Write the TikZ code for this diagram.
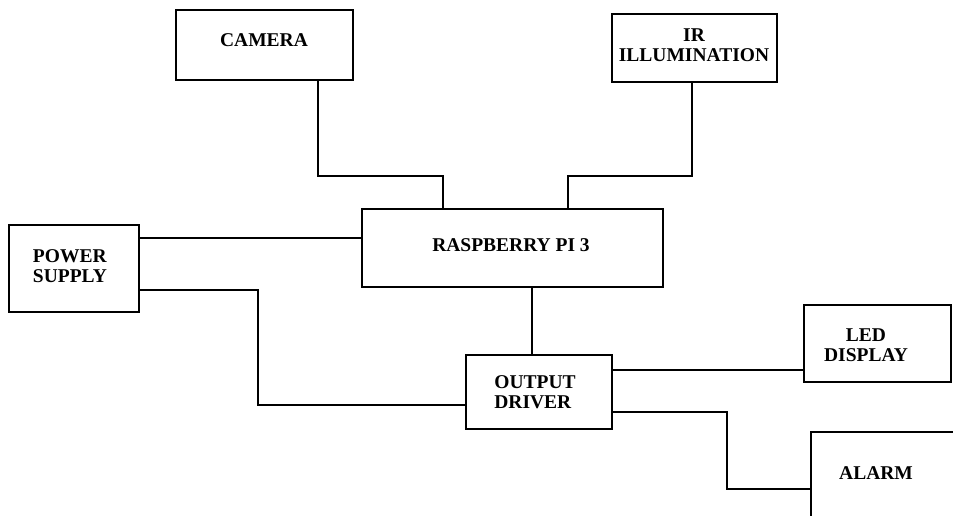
\documentclass[tikz,border=0pt]{standalone}
\usepackage{fontspec}
\setmainfont{Liberation Serif}
\begin{document}
\begin{tikzpicture}[x=1pt,y=-1pt,
  blk/.style={draw=black,line width=2.8pt,rectangle,inner sep=0pt,
    font=\fontsize{19.5}{20}\selectfont\bfseries,align=center},
  txt/.style={inner sep=0pt,font=\fontsize{19.5}{20}\selectfont\bfseries},
  wire/.style={draw=black,line width=2.4pt,line join=miter}]
\useasboundingbox (0,0) rectangle (953,516);
% boxes
\node[blk,minimum width=177pt,minimum height=70pt] (camera) at (264.5,45) {};
\node[txt] (cameratxt) at (264,40) {CAMERA};
\node[blk,minimum width=165pt,minimum height=68pt] (ir) at (694.5,48) {};
\node[txt,align=center] (irtxt) at (694,45) {IR\\ILLUMINATION};
\node[blk,minimum width=130pt,minimum height=87pt] (power) at (74,268.5) {};
\node[txt,align=left] (powertxt) at (70,266) {POWER\\SUPPLY};
\node[blk,minimum width=301pt,minimum height=78pt] (rpi) at (512.5,248) {};
\node[txt] (rpitxt) at (511,245) {RASPBERRY PI 3};
\node[blk,minimum width=146pt,minimum height=74pt] (driver) at (539,392) {};
\node[txt,align=left] (drivertxt) at (535,392) {OUTPUT\\DRIVER};
\node[blk,minimum width=147pt,minimum height=77pt] (led) at (877.5,343.5) {};
\node[txt,align=center] (ledtxt) at (866,345) {LED\\DISPLAY};
\node[blk,minimum width=159pt,minimum height=110pt] (alarm) at (890.5,487) {};
\node[txt] (alarmtxt) at (876,473) {ALARM};
% connector bends
\coordinate (c1) at (318,176);
\coordinate (c2) at (443,176);
\coordinate (i1) at (692,176);
\coordinate (i2) at (568,176);
\coordinate (p1) at (140,238);
\coordinate (p2) at (258,290);
\coordinate (p3) at (258,405);
\coordinate (r1) at (532,300);
\coordinate (d1) at (700,370);
\coordinate (a1) at (727,412);
\coordinate (a2) at (727,489);
% connectors
\draw[wire] (camera.south -| c1) -- (c1) -- (c2) -- (rpi.north -| c2);
\draw[wire] (ir.south -| i1) -- (i1) -- (i2) -- (rpi.north -| i2);
\draw[wire] (power.east |- p1) -- (rpi.west |- p1);
\draw[wire] (power.east |- p2) -- (p2) -- (p3) -- (driver.west |- p3);
\draw[wire] (rpi.south -| r1) -- (driver.north -| r1);
\draw[wire] (driver.east |- d1) -- (led.west |- d1);
\draw[wire] (driver.east |- a1) -- (a1) -- (a2) -- (alarm.west |- a2);
\end{tikzpicture}
\end{document}
